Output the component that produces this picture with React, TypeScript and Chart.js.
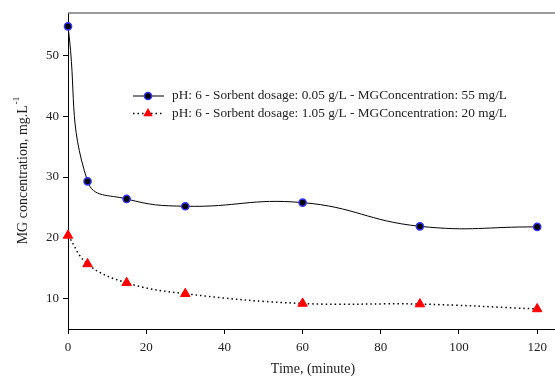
import React, { useEffect, useRef } from "react";
import { Chart, registerables } from "chart.js";
Chart.register(...registerables);

const times = [0, 5, 15, 30, 60, 90, 120];
const series1 = [54.8, 29.3, 26.4, 25.2, 25.8, 21.9, 21.8];
const series2 = [20.4, 15.7, 12.6, 10.8, 9.2, 9.1, 8.3];
const label1 = "pH: 6 - Sorbent dosage: 0.05 g/L - MGConcentration: 55 mg/L";
const label2 = "pH: 6 - Sorbent dosage: 1.05 g/L - MGConcentration: 20 mg/L";
const xTicks = [0, 20, 40, 60, 80, 100, 120];
const yTicks = [10, 20, 30, 40, 50];
const xTitle = "Time, (minute)";
const yTitle = "MG concentration, mg.L";
const yTitleSup = "-1";

const FONT = "'Liberation Serif', 'Times New Roman', serif";
const TEXT = "#222";

const decorPlugin = {
  id: "decor",
  afterDraw(chart: any) {
    const ctx = chart.ctx as CanvasRenderingContext2D;
    const { left, right, top, bottom } = chart.chartArea;
    ctx.save();
    // top border
    ctx.strokeStyle = "#7a7a7a";
    ctx.lineWidth = 1.5;
    ctx.beginPath();
    ctx.moveTo(left, top);
    ctx.lineTo(right, top);
    ctx.stroke();

    // x title
    ctx.fillStyle = TEXT;
    ctx.font = `14px ${FONT}`;
    ctx.textAlign = "center";
    ctx.textBaseline = "middle";
    ctx.fillText(xTitle, 313, 369);

    // y title with superscript
    ctx.save();
    ctx.translate(23, (top + bottom) / 2);
    ctx.rotate(-Math.PI / 2);
    ctx.font = `14px ${FONT}`;
    const w1 = ctx.measureText(yTitle).width;
    ctx.font = `9px ${FONT}`;
    const w2 = ctx.measureText(yTitleSup).width;
    const start = -(w1 + w2) / 2;
    ctx.textAlign = "left";
    ctx.textBaseline = "middle";
    ctx.font = `14px ${FONT}`;
    ctx.fillText(yTitle, start, 0);
    ctx.font = `9px ${FONT}`;
    ctx.fillText(yTitleSup, start + w1 + 1, -6);
    ctx.restore();

    // legend
    const lx0 = 133, lx1 = 164, mx = 148, tx = 172;
    const rows = [
      { y: 96, label: chart.data.datasets[0].label, dash: [] as number[], w: 1 },
      { y: 113.5, label: chart.data.datasets[1].label, dash: [1.5, 3], w: 1.5 },
    ];
    rows.forEach((r, i) => {
      ctx.strokeStyle = "#000";
      ctx.lineWidth = r.w;
      ctx.setLineDash(r.dash);
      ctx.beginPath();
      ctx.moveTo(lx0, r.y);
      ctx.lineTo(lx1, r.y);
      ctx.stroke();
      ctx.setLineDash([]);
      if (i === 0) {
        ctx.fillStyle = "#000";
        ctx.strokeStyle = "#3333ff";
        ctx.lineWidth = 1.5;
        ctx.beginPath();
        ctx.arc(mx, r.y, 3.6, 0, Math.PI * 2);
        ctx.fill();
        ctx.stroke();
      } else {
        const rad = 5.5;
        ctx.fillStyle = "#ff0000";
        ctx.beginPath();
        ctx.moveTo(mx, r.y - rad);
        ctx.lineTo(mx + Math.sin((2 * Math.PI) / 3) * rad, r.y + rad / 2);
        ctx.lineTo(mx - Math.sin((2 * Math.PI) / 3) * rad, r.y + rad / 2);
        ctx.closePath();
        ctx.fill();
      }
      ctx.fillStyle = TEXT;
      ctx.font = `13.3px ${FONT}`;
      ctx.textAlign = "left";
      ctx.textBaseline = "middle";
      ctx.fillText(r.label, tx, r.y);
    });
    ctx.restore();
  },
};

export default function App() {
  const ref = useRef<HTMLCanvasElement>(null);
  useEffect(() => {
    document.body.style.margin = "0";
    if (!ref.current) return;
    const chart = new Chart(ref.current, {
      type: "line",
      data: {
        datasets: [
          {
            label: label1,
            data: times.map((t, i) => ({ x: t, y: series1[i] })),
            borderColor: "#000",
            borderWidth: 1,
            tension: 0.45,
            clip: false,
            pointStyle: "circle",
            pointRadius: 3.6,
            pointBackgroundColor: "#000",
            pointBorderColor: "#3333ff",
            pointBorderWidth: 1.5,
          },
          {
            label: label2,
            data: times.map((t, i) => ({ x: t, y: series2[i] })),
            borderColor: "#000",
            borderWidth: 1.5,
            borderDash: [1.5, 3],
            tension: 0.4,
            clip: false,
            pointStyle: "triangle",
            pointRadius: 5.5,
            pointBackgroundColor: "#ff0000",
            pointBorderColor: "#ff0000",
            pointBorderWidth: 1,
          },
        ],
      },
      options: {
        animation: false,
        responsive: false,
        devicePixelRatio: 1,
        layout: { padding: { top: 13, left: 0, right: 0, bottom: 0 } },
        plugins: { legend: { display: false }, tooltip: { enabled: false } },
        scales: {
          x: {
            type: "linear",
            min: 0,
            max: 134.4,
            afterBuildTicks: (s: any) => {
              s.ticks = xTicks.map((v) => ({ value: v }));
            },
            afterFit: (s: any) => {
              s.height = 47;
            },
            ticks: {
              color: TEXT,
              font: { family: FONT, size: 13 },
              padding: 6,
              maxRotation: 0,
            },
            grid: { display: true, drawOnChartArea: false, drawTicks: true, tickLength: 5, color: "#000" },
            border: { display: true, color: "#000", width: 1 },
          },
          y: {
            type: "linear",
            min: 5,
            max: 57,
            afterBuildTicks: (s: any) => {
              s.ticks = yTicks.map((v) => ({ value: v }));
            },
            afterFit: (s: any) => {
              s.width = 68;
            },
            ticks: {
              color: TEXT,
              font: { family: FONT, size: 13 },
              padding: 4,
            },
            grid: { display: true, drawOnChartArea: false, drawTicks: true, tickLength: 5, color: "#000" },
            border: { display: true, color: "#000", width: 1 },
          },
        },
      },
      plugins: [decorPlugin],
    });
    return () => chart.destroy();
  }, []);
  return (
    <div style={{ width: 555, height: 376, overflow: "hidden", position: "relative", background: "#fff" }}>
      <canvas ref={ref} width={600} height={376} style={{ width: 600, height: 376, display: "block" }} />
    </div>
  );
}
